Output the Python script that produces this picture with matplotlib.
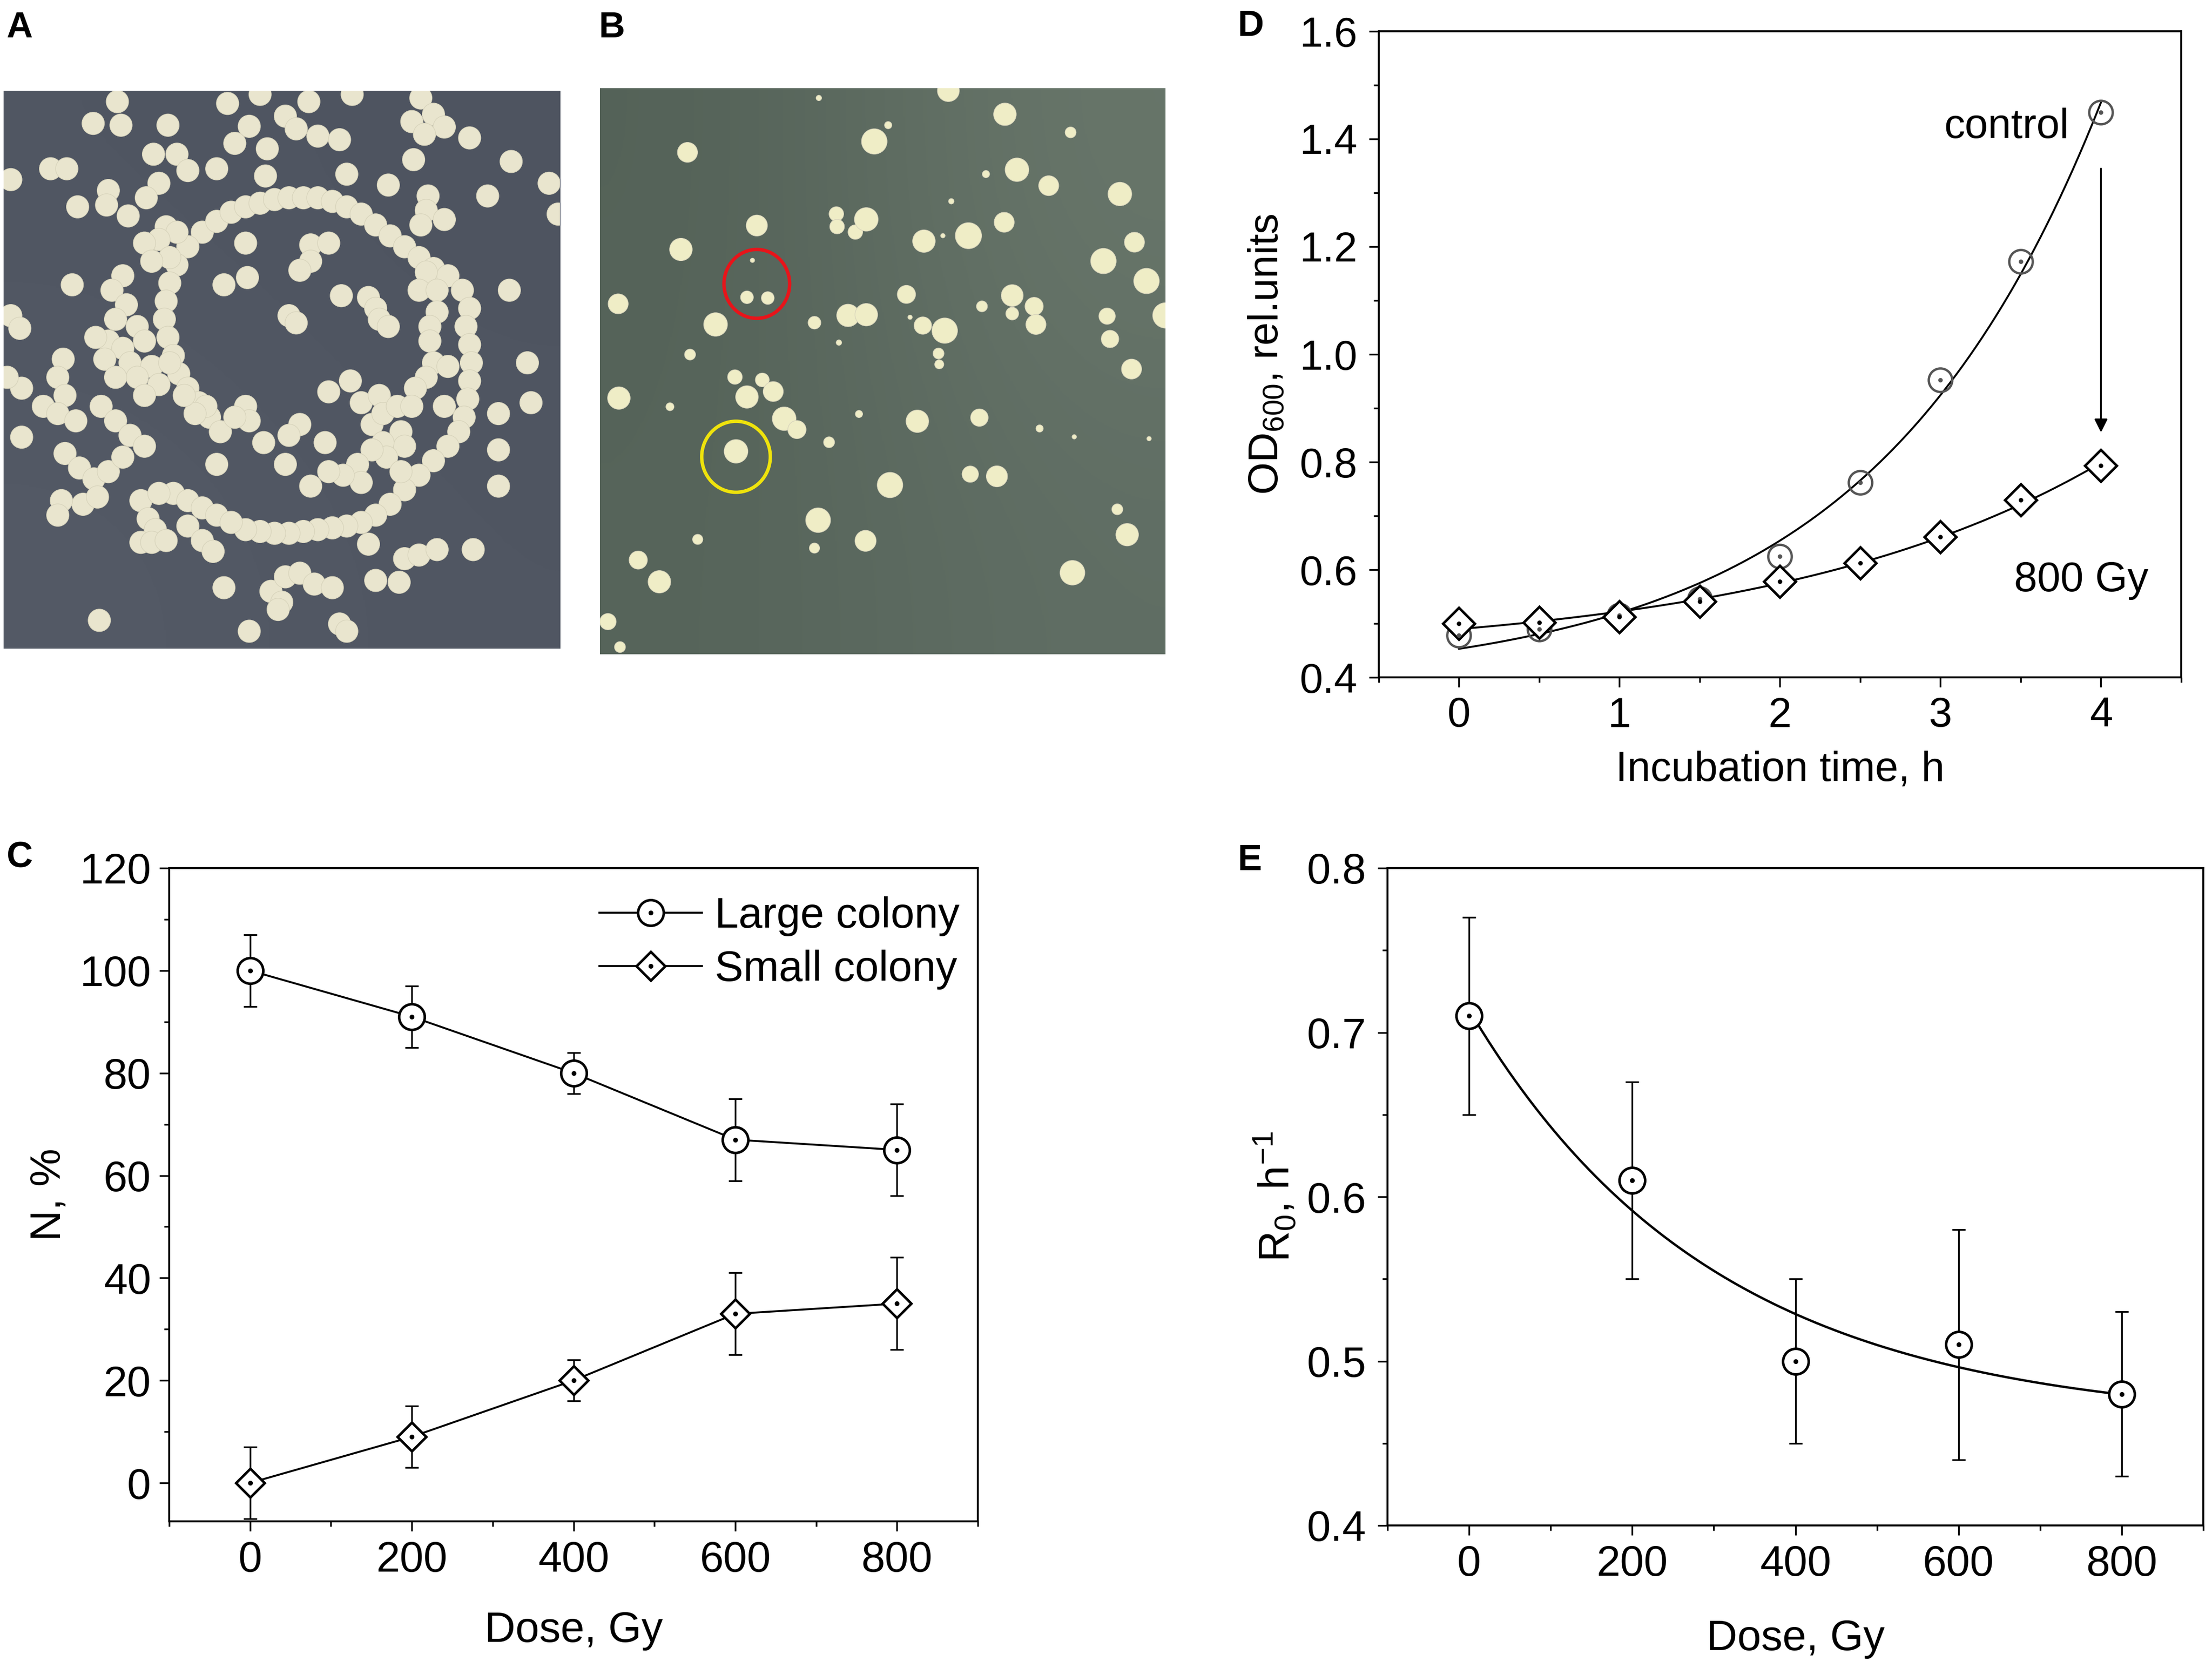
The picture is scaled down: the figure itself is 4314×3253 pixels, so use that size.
import numpy as np
import matplotlib
matplotlib.use("Agg")
import matplotlib.pyplot as plt
from matplotlib.patches import Circle, Ellipse
from matplotlib.collections import PatchCollection
from matplotlib.legend_handler import HandlerTuple

plt.rcParams['font.family'] = ['Liberation Sans', 'DejaVu Sans']
plt.rcParams['mathtext.fontset'] = 'custom'
plt.rcParams['mathtext.rm'] = 'Liberation Sans'
plt.rcParams['mathtext.it'] = 'Liberation Sans:italic'
plt.rcParams['mathtext.bf'] = 'Liberation Sans:bold'
plt.rcParams['mathtext.default'] = 'rm'

# ---------------- data ----------------
dose = [0, 200, 400, 600, 800]
large_colony = [100, 91, 80, 67, 65]
large_err = [7, 6, 4, 8, 9]
small_colony = [0, 9, 20, 33, 35]
small_err = [7, 6, 4, 8, 9]

time_h = [0, 0.5, 1, 1.5, 2, 2.5, 3, 3.5, 4]
od_control = [0.478, 0.490, 0.515, 0.546, 0.625, 0.762, 0.952, 1.172, 1.450]
od_800gy = [0.500, 0.502, 0.512, 0.541, 0.578, 0.612, 0.661, 0.730, 0.793]

r0 = [0.71, 0.61, 0.50, 0.51, 0.48]
r0_err = [0.06, 0.06, 0.05, 0.07, 0.05]

xt_dose = [0, 200, 400, 600, 800]
yt_C = [0, 20, 40, 60, 80, 100, 120]
xt_D = [0, 1, 2, 3, 4]
yt_D = [0.4, 0.6, 0.8, 1.0, 1.2, 1.4, 1.6]
yt_E = [0.4, 0.5, 0.6, 0.7, 0.8]

# colony positions (photo pixel coordinates)
plateA = [
    (325, 40), (258, 100), (335, 105), (465, 105), (630, 45), (720, 20), (690, 108), (790, 80),
    (820, 115), (880, 135), (940, 145), (855, 40), (975, 20), (1165, 30), (1200, 75), (1140, 95),
    (1230, 110), (1175, 130), (1300, 140), (740, 170), (600, 225), (650, 155), (425, 185), (490, 185),
    (520, 230), (140, 225), (185, 225), (30, 255), (1145, 200), (1415, 205), (1520, 265), (960, 240),
    (1075, 270), (735, 245), (300, 285), (440, 265), (405, 305), (215, 330), (295, 325), (355, 355),
    (1350, 300), (1185, 300), (1180, 340), (1165, 380), (1230, 365), (1545, 350),
    # ring
    (560, 400), (600, 370), (640, 345), (680, 330), (720, 320), (760, 310), (800, 305), (840, 305),
    (880, 305), (920, 315), (960, 330), (1000, 350), (1040, 380), (1080, 410), (1120, 440),
    (1160, 470), (1200, 500), (1240, 520), (1280, 560), (1300, 610), (1290, 660), (1300, 710),
    (1305, 760), (1300, 810), (1295, 860), (1285, 910), (1270, 950), (1240, 990), (1200, 1030),
    (1160, 1070), (1120, 1110), (1080, 1150), (1040, 1180), (1000, 1200), (960, 1210), (920, 1215),
    (880, 1220), (840, 1225), (800, 1230), (760, 1230), (720, 1225), (680, 1220),
    (520, 440), (490, 490), (470, 540), (460, 590), (455, 640), (465, 690), (480, 740), (495, 790),
    (520, 830), (550, 870), (580, 910), (610, 950),
    (480, 1120), (520, 1140), (560, 1160), (600, 1180), (640, 1200),
    # left cluster
    (460, 385), (490, 400), (440, 420), (400, 430), (470, 470), (420, 480), (340, 520), (310, 560),
    (350, 600), (320, 640), (380, 660), (300, 700), (340, 720), (290, 750), (360, 760), (400, 700),
    (420, 770), (380, 800), (440, 820), (320, 800), (400, 850),
    (200, 545), (30, 630), (55, 665), (265, 690), (175, 750), (160, 800), (180, 850), (60, 830),
    (20, 800), (120, 880), (160, 900), (210, 920), (280, 880), (320, 920), (360, 960), (400, 990),
    (60, 965), (180, 1010), (220, 1050), (260, 1080), (300, 1060), (340, 1020), (230, 1150),
    (170, 1140), (160, 1180), (270, 1130), (390, 1140), (440, 1120), (410, 1190), (430, 1220),
    (390, 1255), (420, 1255), (460, 1250),
    # bottom
    (520, 1210), (560, 1250), (590, 1280), (620, 1380), (750, 1390), (790, 1350), (830, 1340),
    (870, 1370), (920, 1380), (780, 1420), (770, 1440), (1040, 1360), (1105, 1365), (1120, 1300),
    (1160, 1290), (1210, 1275), (1310, 1275), (275, 1470), (690, 1500), (940, 1480), (960, 1500),
    (1020, 1260),
    # interior / right
    (680, 430), (620, 545), (685, 525), (860, 435), (910, 430), (860, 480), (830, 505), (800, 630),
    (820, 650), (945, 575), (1020, 580), (1040, 610), (1050, 640), (1075, 660), (1180, 510),
    (1160, 560), (1210, 560), (1210, 620), (1190, 660), (1190, 700), (1200, 760), (1240, 770),
    (1180, 800), (1150, 830), (1230, 880), (910, 840), (970, 810), (1000, 870), (1050, 850),
    (1030, 930), (1060, 900), (1100, 880), (1140, 880), (1110, 950), (1120, 990), (1060, 980),
    (1070, 1020), (1030, 1000), (990, 1040), (1110, 1060), (1000, 1090), (950, 1070), (910, 1060),
    (860, 1100), (900, 980), (830, 930), (800, 960), (790, 1040), (730, 980), (680, 880), (690, 920),
    (650, 910), (600, 1040), (570, 880), (540, 900), (510, 850), (470, 760), (1380, 900),
    (1380, 1000), (1380, 1100), (1410, 560), (1460, 760), (1470, 870),
]
plateA_x = [p[0] for p in plateA]
plateA_y = [p[1] for p in plateA]
plateA_d = [62] * len(plateA)

plateB = [
    (240, 180, 55), (430, 382, 58), (222, 448, 62), (50, 598, 55), (317, 655, 65), (247, 738, 30),
    (370, 800, 40), (403, 855, 62), (445, 808, 38), (475, 840, 55), (52, 858, 62), (192, 882, 22),
    (505, 915, 65), (540, 945, 50), (373, 1005, 65), (403, 580, 35), (460, 582, 35), (418, 478, 12),
    (600, 30, 15), (752, 150, 70), (790, 105, 20), (648, 350, 40), (650, 385, 40), (700, 400, 40),
    (730, 365, 65), (680, 630, 62), (730, 628, 62), (588, 650, 35), (840, 572, 50), (885, 658, 48),
    (945, 672, 70), (928, 735, 30), (930, 765, 25), (888, 425, 62), (1010, 410, 72), (940, 410, 12),
    (1110, 75, 62), (1290, 125, 30), (1143, 228, 65), (1058, 240, 20), (1230, 272, 55),
    (1425, 295, 65), (963, 315, 15), (1108, 373, 55), (1380, 480, 70), (1465, 428, 55),
    (1498, 535, 70), (1130, 575, 60), (1130, 625, 35), (1190, 605, 50), (1195, 655, 55),
    (1047, 605, 30), (1390, 632, 45), (1398, 695, 48), (1550, 630, 70), (1457, 778, 55),
    (870, 922, 62), (1040, 912, 48), (710, 902, 20), (628, 980, 30), (1205, 942, 20),
    (1015, 1068, 45), (1088, 1074, 58), (795, 1098, 70), (598, 1195, 68), (728, 1252, 58),
    (588, 1272, 28), (268, 1248, 28), (105, 1305, 50), (163, 1365, 62), (1418, 1165, 30),
    (1445, 1235, 62), (1295, 1340, 68), (22, 1475, 45), (55, 1545, 30), (955, 10, 60),
    (655, 705, 15), (1300, 965, 12), (1505, 970, 12), (850, 635, 12),
]
plateB_x = [p[0] for p in plateB]
plateB_y = [p[1] for p in plateB]
plateB_d = [p[2] for p in plateB]

# ---------------- helpers ----------------
def fit_offset_exp(x, y, k_grid):
    x = np.asarray(x, float)
    y = np.asarray(y, float)
    best = None
    for k in k_grid:
        M = np.column_stack([np.ones_like(x), np.exp(k * x)])
        coef, *_ = np.linalg.lstsq(M, y, rcond=None)
        r = np.sum((M @ coef - y) ** 2)
        if best is None or r < best[0]:
            best = (r, k, coef)
    return best[1], best[2]


def style_axes(ax, xmaj, xmin_step, ymaj, ymin_step, xlim, ylim, lsize, ypad):
    ax.set_xlim(*xlim)
    ax.set_ylim(*ylim)
    ax.set_xticks(xmaj)
    ax.set_yticks(ymaj)
    ax.xaxis.set_minor_locator(matplotlib.ticker.MultipleLocator(xmin_step))
    ax.yaxis.set_minor_locator(matplotlib.ticker.MultipleLocator(ymin_step))
    ax.tick_params(which='both', direction='out', top=False, right=False, width=0.8)
    ax.tick_params(which='major', length=4.5, labelsize=lsize)
    ax.tick_params(which='minor', length=2.5)
    ax.tick_params(axis='x', which='major', pad=4.5)
    ax.tick_params(axis='y', which='major', pad=ypad)
    for s in ax.spines.values():
        s.set_linewidth(0.9)


def draw_plate(ax, xs, ys, ds, corners, fc, xlim, ylim):
    grad = np.array(corners, dtype=float) / 255.0
    ax.imshow(grad, extent=[xlim[0], xlim[1], ylim[0], ylim[1]], interpolation='bicubic',
              aspect='auto', zorder=0)
    patches = [Circle((x, y), d / 2.0) for x, y, d in zip(xs, ys, ds)]
    pc = PatchCollection(patches, facecolor=fc, edgecolor='#d8d4bc', linewidth=0.3, zorder=2)
    ax.add_collection(pc)
    ax.set_xlim(*xlim)
    ax.set_ylim(*ylim)
    ax.set_xticks([])
    ax.set_yticks([])
    for s in ax.spines.values():
        s.set_visible(False)


W, H = 4314, 3253
fig = plt.figure(figsize=(W / 300, H / 300), dpi=300)


def px_axes(l, t, r, b):
    return fig.add_axes([l / W, 1 - b / H, (r - l) / W, (b - t) / H])


# ---------------- panel A ----------------
axA = px_axes(7, 177, 1092, 1265)
draw_plate(axA, plateA_x, plateA_y, plateA_d,
           [[(80, 86, 98), (78, 84, 96)], [(84, 90, 102), (80, 86, 98)]],
           '#e9e5ce', (10, 1550), (1548, 10))

# ---------------- panel B ----------------
axB = px_axes(1170, 172, 2273, 1276)
draw_plate(axB, plateB_x, plateB_y, plateB_d,
           [[(84, 98, 88), (104, 118, 106)], [(86, 100, 90), (96, 110, 100)]],
           '#efedc6', (0, 1550), (1565, 3))
axB.add_patch(Ellipse((430, 543), 180, 190, fill=False, edgecolor='#e8141a', linewidth=1.6, zorder=3))
axB.add_patch(Ellipse((373, 1020), 188, 196, fill=False, edgecolor='#efe30c', linewidth=1.6, zorder=3))

# ---------------- panel C ----------------
axC = px_axes(330, 1693, 1907, 2967)
axC.errorbar(dose, large_colony, yerr=large_err, fmt='none', ecolor='k', elinewidth=0.8,
             capsize=3.2, capthick=0.8, zorder=2)
axC.errorbar(dose, small_colony, yerr=small_err, fmt='none', ecolor='k', elinewidth=0.8,
             capsize=3.2, capthick=0.8, zorder=2)
lL, = axC.plot(dose, large_colony, '-', color='k', lw=0.9, marker='o', ms=12, mfc='white',
               mec='k', mew=1.2, zorder=3)
dL, = axC.plot(dose, large_colony, ls='none', marker='.', ms=2.5, color='k', zorder=4)
lS, = axC.plot(dose, small_colony, '-', color='k', lw=0.9, marker='D', ms=9.5, mfc='white',
               mec='k', mew=1.2, zorder=3)
dS, = axC.plot(dose, small_colony, ls='none', marker='.', ms=2.5, color='k', zorder=4)
style_axes(axC, xt_dose, 100, yt_C, 10, (-100, 900), (-7.5, 120), 20, 4)
axC.set_xlabel('Dose, Gy', fontsize=20, labelpad=14)
axC.set_ylabel('N, %', fontsize=20, labelpad=5)
axC.legend([(lL, dL), (lS, dS)], ['Large colony', 'Small colony'],
           handler_map={tuple: HandlerTuple(ndivide=1)}, frameon=False, fontsize=20,
           loc='upper left', bbox_to_anchor=(0.532, 0.957), borderpad=0, borderaxespad=0,
           handlelength=2.4, handletextpad=0.3, labelspacing=0.32)

# ---------------- panel D ----------------
axD = px_axes(2689, 61, 4254, 1321)
t_fine = np.linspace(0, 4, 300)
k_c, c_c = fit_offset_exp(time_h, od_control, np.linspace(0.05, 2.0, 800))
k_8, c_8 = fit_offset_exp(time_h, od_800gy, np.linspace(0.05, 2.0, 800))
axD.plot(t_fine, c_c[0] + c_c[1] * np.exp(k_c * t_fine), color='k', lw=0.9, zorder=2)
axD.plot(t_fine, c_8[0] + c_8[1] * np.exp(k_8 * t_fine), color='k', lw=0.9, zorder=2)
axD.plot(time_h, od_control, ls='none', marker='o', ms=11, mfc='none', mec='#555555', mew=1.1, zorder=3)
axD.plot(time_h, od_control, ls='none', marker='.', ms=2.2, color='#555555', zorder=4)
axD.plot(time_h, od_800gy, ls='none', marker='D', ms=10.5, mfc='white', mec='k', mew=1.2, zorder=3)
axD.plot(time_h, od_800gy, ls='none', marker='.', ms=2.2, color='k', zorder=4)
axD.annotate('', xy=(4, 0.855), xytext=(4, 1.345),
             arrowprops=dict(arrowstyle='-|>', color='k', lw=0.8, mutation_scale=13,
                             shrinkA=0, shrinkB=0))
axD.text(3.80, 1.422, 'control', fontsize=19.5, ha='right', va='center')
axD.text(3.46, 0.58, '800 Gy', fontsize=19.5, ha='left', va='center')
style_axes(axD, xt_D, 0.5, yt_D, 0.1, (-0.5, 4.5), (0.4, 1.6), 19.5, 5.5)
axD.set_yticklabels([f'{v:.1f}' for v in yt_D])
axD.set_xlabel('Incubation time, h', fontsize=19.5, labelpad=7)
axD.set_ylabel('OD$_{600}$, rel.units', fontsize=19.5, labelpad=6)

# ---------------- panel E ----------------
axE = px_axes(2706, 1693, 4297, 2975)
d_fine = np.linspace(0, 800, 300)
k_e, c_e = fit_offset_exp(dose, r0, np.linspace(-0.03, -0.0008, 800))
axE.plot(d_fine, c_e[0] + c_e[1] * np.exp(k_e * d_fine), color='k', lw=1.1, zorder=2)
axE.errorbar(dose, r0, yerr=r0_err, fmt='none', ecolor='k', elinewidth=0.8,
             capsize=3.2, capthick=0.8, zorder=2)
axE.plot(dose, r0, ls='none', marker='o', ms=12, mfc='white', mec='k', mew=1.2, zorder=3)
axE.plot(dose, r0, ls='none', marker='.', ms=2.5, color='k', zorder=4)
style_axes(axE, xt_dose, 100, yt_E, 0.05, (-100, 900), (0.4, 0.8), 20, 5.5)
axE.set_yticklabels([f'{v:.1f}' for v in yt_E])
axE.set_xlabel('Dose, Gy', fontsize=20, labelpad=16)
axE.set_ylabel('R$_0$, h$^{-1}$', fontsize=20, labelpad=4)

# ---------------- panel letters ----------------
for lab, x, y in [('A', 12, 73), ('B', 1167, 73), ('C', 12, 1692), ('D', 2413, 70), ('E', 2413, 1697)]:
    fig.text(x / W, 1 - y / H, lab, fontsize=17, fontweight='bold', ha='left', va='baseline')

fig.savefig('out.png', dpi=300)
